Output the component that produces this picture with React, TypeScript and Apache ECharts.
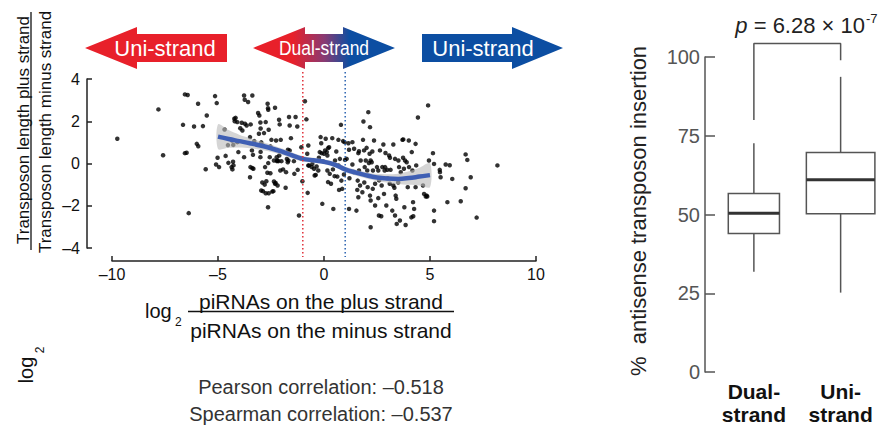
import React, { useEffect, useRef } from 'react';
import * as echarts from 'echarts';

// ---------- DATA ----------
const scatterPoints: [number, number][] = [
  [-9.75, 1.17], [-7.81, 2.56], [-7.59, 0.39], [-6.56, 3.27], [-6.43, 3.24], [-6.65, 1.83],
  [-6.56, 0.49], [-6.48, 0.51], [-6.38, -2.35], [-6.13, 1.75], [-5.94, 2.83], [-6.0, 0.93],
  [-5.93, 0.82], [-5.71, 1.77], [-5.53, 2.27], [-5.58, -0.27], [-5.14, 3.19], [-5.06, 2.86],
  [-5.09, -0.05], [-5.02, 0.27], [-4.95, -0.17], [-4.69, 1.61], [-4.64, 0.36], [-4.53, 0.87],
  [-4.36, -0.17], [-4.32, -0.28], [-4.29, 0.08], [-4.23, 2.12], [-4.17, 2.16], [-4.21, 2.0],
  [-4.09, 1.96], [-4.34, 1.09], [-4.28, 0.88], [-4.09, 1.01], [-4.04, 0.54], [-3.95, 1.67],
  [-3.88, 1.93], [-3.85, 1.56], [-3.77, 3.22], [-3.74, 3.02], [-3.58, 2.91], [-3.38, 3.22],
  [-3.73, 1.88], [-3.65, 1.8], [-3.46, 1.85], [-3.49, 1.25], [-3.29, 1.06], [-3.4, 0.62],
  [-3.35, 0.41], [-3.47, -0.17], [-3.38, -0.22], [-3.49, -0.65], [-3.11, 2.39], [-3.05, 2.27],
  [-3.0, 1.94], [-2.99, 1.66], [-3.07, 1.41], [-2.83, 1.44], [-2.96, 1.0], [-2.88, 0.85],
  [-2.99, 0.55], [-2.66, 2.83], [-2.64, 2.62], [-2.63, 2.54], [-2.31, 2.64], [-2.75, 1.96],
  [-2.61, 1.6], [-2.48, 1.12], [-2.53, 0.81], [-2.56, 0.3], [-2.78, -0.17], [-2.63, 0.02],
  [-2.67, -0.44], [-2.53, -0.46], [-2.91, -0.9], [-2.8, -1.0], [-2.96, -1.28], [-2.88, -1.31],
  [-2.72, -0.84], [-2.61, -1.41], [-2.64, -2.07], [-2.39, -1.31], [-2.31, -0.96], [-2.19, -1.04],
  [-2.22, 0.11], [-2.15, 0.11], [-2.26, 1.09], [-2.12, 2.07], [-2.09, 1.85], [-2.04, 1.12],
  [-2.11, 0.38], [-2.01, 0.11], [-1.93, -0.28], [-2.06, -0.33], [-1.81, -1.15], [-1.79, -0.41],
  [-1.65, 2.2], [-1.62, 1.8], [-1.34, 2.2], [-1.26, 1.75], [-1.56, 1.2], [-1.7, 0.65],
  [-1.62, 0.62], [-1.75, 0.21], [-1.71, 0.06], [-1.42, 0.11], [-1.4, -0.49], [-1.24, -0.3],
  [-1.07, 0.77], [-1.08, 0.24], [-1.18, -2.46], [-1.02, -0.84], [-0.9, 2.95], [-0.83, 2.09],
  [-0.79, 0.46], [-0.74, 0.85], [-0.77, -1.39], [-0.74, -0.09], [-0.58, -0.17], [-0.55, -0.02],
  [-0.47, -0.25], [-0.44, -0.57], [-0.35, -0.14], [-0.27, -0.33], [-0.16, 1.25], [-0.13, 0.96],
  [-0.2, 0.54], [-0.11, 0.49], [-0.24, 0.27], [-0.08, -1.91], [0.05, 0.62], [0.08, 1.17],
  [0.13, 0.54], [0.16, 0.38], [-0.05, 0.11], [0.16, -0.33], [0.24, 0.77], [0.27, -0.49],
  [0.19, -0.88], [0.33, -0.96], [0.39, 1.2], [0.42, -0.28], [0.44, -2.15], [0.52, 0.14],
  [0.58, 0.57], [0.63, -0.62], [0.68, 1.12], [0.68, -0.09], [0.71, -1.25], [0.75, 0.22],
  [0.8, 1.83], [0.82, -0.81], [0.86, -1.2], [0.9, 1.06], [0.97, 1.01], [0.99, 0.17],
  [0.94, -0.52], [-3.77, 0.3], [-3.0, 0.3], [-4.51, 0.03], [-4.27, -0.09], [-3.33, -0.25],
  [-2.36, 0.14], [-2.2, 0.14], [-2.23, 0.3], [-2.36, -0.85], [-2.28, -0.92], [-2.44, -1.33],
  [-2.75, -1.41], [-1.68, 0.14], [-0.71, -0.1], [-0.39, -0.54], [0.0, 0.46], [0.19, 0.73],
  [1.15, 0.96], [1.34, 1.01], [1.18, 0.65], [1.07, 0.22], [1.18, -2.15], [1.34, -0.05],
  [1.42, 0.7], [1.53, -2.23], [1.62, 0.49], [1.65, 0.58], [1.57, -1.25], [1.62, -1.6],
  [1.59, -0.81], [1.65, -0.33], [1.73, 0.14], [1.7, -1.04], [1.81, -1.36], [1.86, 1.99],
  [1.84, 1.12], [1.89, 0.62], [1.92, -0.17], [1.97, 0.14], [2.01, 0.74], [2.04, -0.33],
  [2.06, -1.12], [2.09, 2.43], [2.12, 0.02], [2.17, 1.72], [2.15, 0.46], [2.2, 0.14],
  [2.25, 0.06], [2.17, -1.52], [2.2, -1.75], [2.2, -3.02], [2.28, 0.57], [2.31, -0.33],
  [2.36, 1.09], [2.41, -0.96], [2.41, -1.99], [2.5, -0.17], [2.56, -0.33], [2.56, -1.64],
  [2.59, -2.46], [2.7, -2.5], [2.64, 0.62], [2.72, -1.04], [2.8, 0.9], [2.75, -0.17],
  [2.88, -0.17], [2.83, -1.44], [2.86, -0.33], [2.94, -1.99], [2.99, -0.3], [3.07, 0.38],
  [3.11, 0.27], [3.1, -0.96], [3.14, -0.3], [3.22, -2.23], [3.27, 0.9], [3.27, -1.04],
  [3.32, -1.15], [3.35, 0.22], [3.38, -1.52], [3.41, -1.67], [3.35, -2.46], [3.43, -2.86],
  [3.51, 0.14], [3.54, -0.17], [3.58, -2.7], [3.62, -0.41], [3.7, 1.12], [3.73, 0.27],
  [3.77, -0.25], [3.79, -2.07], [3.82, 0.14], [3.85, -2.91], [3.9, 0.06], [3.95, -1.12],
  [4.0, 1.09], [4.01, -0.17], [4.14, 0.54], [4.17, -0.33], [4.2, -1.83], [4.25, -2.15],
  [4.21, -2.5], [4.32, 0.93], [4.32, -1.12], [4.35, -0.09], [4.43, 2.18], [4.67, -1.04],
  [4.72, -1.44], [4.8, -1.56], [4.87, -1.56], [4.91, 2.75], [4.95, 0.14], [5.14, 0.49],
  [5.19, -0.02], [5.19, -2.23], [5.19, -2.73], [5.46, -0.3], [5.47, -0.41], [5.5, -0.65],
  [5.74, -0.05], [5.93, -0.08], [5.82, -1.83], [6.05, -0.73], [6.45, -1.79], [6.68, -1.17],
  [6.68, 0.43], [6.76, 0.17], [6.92, -0.65], [7.2, -2.56], [8.18, -0.09], [1.2, -0.7],
  [2.6, -0.8], [3.0, -0.7], [1.9, -0.9], [2.3, -1.2], [3.5, -0.9], [1.4, -0.4], [2.9, 0.5],
  [4.12, -2.55], [4.84, -1.52], [3.74, 1.14], [0.5, -0.6],
];

const loessX = [-5, -4.5, -4, -3.5, -3, -2.5, -2, -1.5, -1, -0.5, 0, 0.5, 1, 1.5, 2, 2.5, 3, 3.5, 4, 4.5, 5];
const loessY = [1.27, 1.16, 1.06, 0.96, 0.85, 0.72, 0.57, 0.38, 0.22, 0.15, 0.08, -0.05, -0.28, -0.43, -0.56, -0.66, -0.71, -0.73, -0.69, -0.62, -0.55];
const loessSE = [0.58, 0.42, 0.3, 0.24, 0.2, 0.17, 0.15, 0.14, 0.13, 0.12, 0.12, 0.12, 0.13, 0.14, 0.15, 0.17, 0.2, 0.25, 0.32, 0.42, 0.57];

const dualStrandBounds = [-1, 1];
const pearsonR = -0.518;
const spearmanR = -0.537;

const boxCategories = ['Dual-\nstrand', 'Uni-\nstrand'];
// [lower whisker, Q1, median, Q3, upper whisker]
const boxStats = [
  [31.8, 44.0, 50.4, 56.7, 72.6],
  [25.2, 50.2, 61.0, 69.7, 93.7],
];
const bracketLegEnds = [80, 99];
const bracketTop = 104.3;
const pValueMantissa = '6.28';
const pValueExponent = '-7';

// ---------- STYLE ----------
const FONT = '"Liberation Sans", Arial, Helvetica, sans-serif';
const RED = '#e8202a';
const BLUE = '#0c4ea2';
const boxWidthRatio = [0.59, 0.79];

const fmtNeg = (v: number, d = 0) => (v < 0 ? '\u2013' + Math.abs(v).toFixed(d) : v.toFixed(d));

export default function App() {
  const ref = useRef<HTMLDivElement>(null);

  useEffect(() => {
    if (!ref.current) return;
    const chart = echarts.init(ref.current, null, { renderer: 'svg' });

    const axisCommon = {
      axisLine: { show: true, onZero: false, lineStyle: { color: '#222', width: 1.5 } },
      axisTick: { show: true, inside: true, length: 5, lineStyle: { color: '#222', width: 1.5 } },
      splitLine: { show: false },
    };

    const option: any = {
      animation: false,
      backgroundColor: '#fff',
      textStyle: { fontFamily: FONT },
      grid: [
        { left: 112, right: 348, top: 79, bottom: 178 },
        { left: 710.5, width: 182, top: 57, bottom: 54 },
      ],
      xAxis: [
        {
          type: 'value', gridIndex: 0, min: -10, max: 10, interval: 5, offset: 13,
          ...axisCommon,
          axisLabel: { fontSize: 16, color: '#111', margin: 5, fontFamily: FONT, formatter: (v: number) => fmtNeg(v) },
        },
        {
          type: 'category', gridIndex: 1, data: boxCategories,
          axisLine: { show: false }, axisTick: { show: false }, splitLine: { show: false },
          axisLabel: { fontSize: 21, fontWeight: 'bold', color: '#111', lineHeight: 23, margin: 8, fontFamily: FONT, interval: 0 },
        },
      ],
      yAxis: [
        {
          type: 'value', gridIndex: 0, min: -4, max: 4, interval: 2, offset: 25,
          ...axisCommon,
          axisLabel: { fontSize: 16, color: '#111', margin: 7, fontFamily: FONT, formatter: (v: number) => fmtNeg(v) },
        },
        {
          type: 'value', gridIndex: 1, min: 0, max: 100, interval: 25, offset: 5.5,
          axisLine: { show: true, onZero: false, lineStyle: { color: '#555', width: 1.5 } },
          axisTick: { show: true, inside: true, length: 10, lineStyle: { color: '#555', width: 1.5 } },
          splitLine: { show: false },
          axisLabel: { fontSize: 20, color: '#555', margin: 5, fontFamily: FONT },
        },
      ],
      series: [
        {
          type: 'scatter', xAxisIndex: 0, yAxisIndex: 0, data: scatterPoints,
          symbolSize: 4.5, itemStyle: { color: '#000' }, z: 2,
        },
        {
          type: 'custom', xAxisIndex: 0, yAxisIndex: 0, z: 3,
          data: loessX.map((x, i) => [x, loessY[i] - loessSE[i], loessY[i] + loessSE[i]]),
          renderItem: (params: any, api: any) => {
            if (params.dataIndex !== 0) return null;
            const upper: number[][] = [];
            const lower: number[][] = [];
            for (let i = 0; i < loessX.length; i++) {
              upper.push(api.coord([loessX[i], loessY[i] + loessSE[i]]));
              lower.push(api.coord([loessX[i], loessY[i] - loessSE[i]]));
            }
            return {
              type: 'polygon',
              shape: { points: upper.concat(lower.reverse()), smooth: 0.3 },
              style: { fill: 'rgba(185,185,185,0.6)' },
            };
          },
        },
        {
          type: 'line', xAxisIndex: 0, yAxisIndex: 0, z: 4,
          data: loessX.map((x, i) => [x, loessY[i]]),
          smooth: 0.4, symbol: 'none',
          lineStyle: { color: '#3f5fb4', width: 4.5 },
        },
        {
          type: 'custom', xAxisIndex: 1, yAxisIndex: 1, z: 3,
          data: boxStats.map((s, i) => [i, ...s]),
          renderItem: (params: any, api: any) => {
            const idx = api.value(0);
            const band = api.size([1, 0])[0];
            const half = (band * boxWidthRatio[idx]) / 2;
            const lo = api.coord([idx, api.value(1)]);
            const q1 = api.coord([idx, api.value(2)]);
            const med = api.coord([idx, api.value(3)]);
            const q3 = api.coord([idx, api.value(4)]);
            const hi = api.coord([idx, api.value(5)]);
            const cx = lo[0];
            const st = { stroke: '#555', lineWidth: 1.5, fill: 'none' };
            return {
              type: 'group',
              children: [
                { type: 'line', shape: { x1: cx, y1: hi[1], x2: cx, y2: q3[1] }, style: st },
                { type: 'line', shape: { x1: cx, y1: q1[1], x2: cx, y2: lo[1] }, style: st },
                { type: 'rect', shape: { x: cx - half, y: q3[1], width: 2 * half, height: q1[1] - q3[1] }, style: { ...st, fill: '#fff' } },
                { type: 'line', shape: { x1: cx - half, y1: med[1], x2: cx + half, y2: med[1] }, style: { stroke: '#333', lineWidth: 3 } },
              ],
            };
          },
        },
        {
          type: 'line', xAxisIndex: 1, yAxisIndex: 1, clip: false, symbol: 'none',
          data: [[0, bracketLegEnds[0]], [0, bracketTop], [1, bracketTop], [1, bracketLegEnds[1]]],
          lineStyle: { color: '#555', width: 1.5 },
        },
      ],
    };

    chart.setOption(option);

    const p = (pt: number[]) => chart.convertToPixel({ gridIndex: 0 }, pt) as number[];
    const dotted = dualStrandBounds.map((xv, i) => {
      const a = p([xv, 4.33]);
      const b = p([xv, -4.43]);
      return {
        type: 'line',
        shape: { x1: a[0], y1: a[1], x2: b[0], y2: b[1] },
        style: { stroke: i === 0 ? '#e0303a' : '#2a62b0', lineWidth: 1.5, lineDash: [1.5, 2.5] },
        z: 10,
      };
    });

    const txt = (text: string, x: number, y: number, fontSize: number, extra: any = {}, el: any = {}) => ({
      type: 'text', x, y, z: 20, ...el,
      style: { text, fontSize, fontFamily: FONT, fill: '#111', align: 'center', verticalAlign: 'middle', ...extra },
    });

    const graphic: any[] = [
      ...dotted,
      // arrows
      { type: 'polygon', z: 15, shape: { points: [[85, 48], [137, 27], [137, 34], [227, 34], [227, 62], [137, 62], [137, 69]] }, style: { fill: RED } },
      {
        type: 'polygon', z: 15,
        shape: { points: [[253, 48], [305, 27], [305, 34], [343, 34], [343, 27], [395, 48], [343, 69], [343, 62], [305, 62], [305, 69]] },
        style: {
          fill: new echarts.graphic.LinearGradient(0, 0, 1, 0, [
            { offset: 0, color: RED }, { offset: 0.28, color: RED },
            { offset: 0.5, color: '#8a3a72' }, { offset: 0.68, color: BLUE }, { offset: 1, color: BLUE },
          ]),
        },
      },
      { type: 'polygon', z: 15, shape: { points: [[422, 34], [512, 34], [512, 27], [563, 48], [512, 69], [512, 62], [422, 62]] }, style: { fill: BLUE } },
      txt('Uni-strand', 165, 48, 22, { fill: '#fff' }),
      txt('Dual-strand', 324, 48, 21, { fill: '#fff' }, { scaleX: 0.83 }),
      txt('Uni-strand', 483, 48, 22, { fill: '#fff' }),
      // y label (scatter)
      txt('Transposon length plus strand', 23, 130, 17, {}, { rotation: Math.PI / 2 }),
      { type: 'line', z: 20, shape: { x1: 31, y1: 12, x2: 31, y2: 250 }, style: { stroke: '#111', lineWidth: 1.3 } },
      txt('Transposon length minus strand', 45, 132, 17, {}, { rotation: Math.PI / 2 }),
      txt('log', 26, 370, 20, {}, { rotation: Math.PI / 2 }),
      txt('2', 40, 350, 12, {}, { rotation: Math.PI / 2 }),
      // x label (scatter)
      txt('log', 145, 311, 20, { align: 'left' }),
      txt('2', 175, 322, 12, { align: 'left' }),
      txt('piRNAs on the plus strand', 321, 301, 21),
      { type: 'line', z: 20, shape: { x1: 188, y1: 311.5, x2: 454, y2: 311.5 }, style: { stroke: '#111', lineWidth: 1.3 } },
      txt('piRNAs on the minus strand', 321, 330, 21),
      // correlations
      txt('Pearson correlation: ' + fmtNeg(pearsonR, 3), 321, 387, 20, { fill: '#333' }),
      txt('Spearman correlation: ' + fmtNeg(spearmanR, 3), 321, 414, 20, { fill: '#333' }),
      // box plot y label
      txt('%  antisense transposon insertion', 638, 211, 22, { fill: '#222' }, { rotation: Math.PI / 2 }),
      // p value
      {
        type: 'text', x: 865, y: 25, z: 20,
        style: {
          text: '{i|p} = ' + pValueMantissa + ' \u00d7 10', fontSize: 22, fontFamily: FONT, fill: '#222',
          align: 'right', verticalAlign: 'middle',
          rich: { i: { fontStyle: 'italic', fontSize: 22, fontFamily: FONT, fill: '#222' } },
        },
      },
      txt(pValueExponent, 866, 18, 13, { align: 'left', fill: '#222' }),
    ];

    chart.setOption({ graphic });

    return () => chart.dispose();
  }, []);

  return <div ref={ref} style={{ position: 'fixed', left: 0, top: 0, width: 884, height: 426 }} />;
}
